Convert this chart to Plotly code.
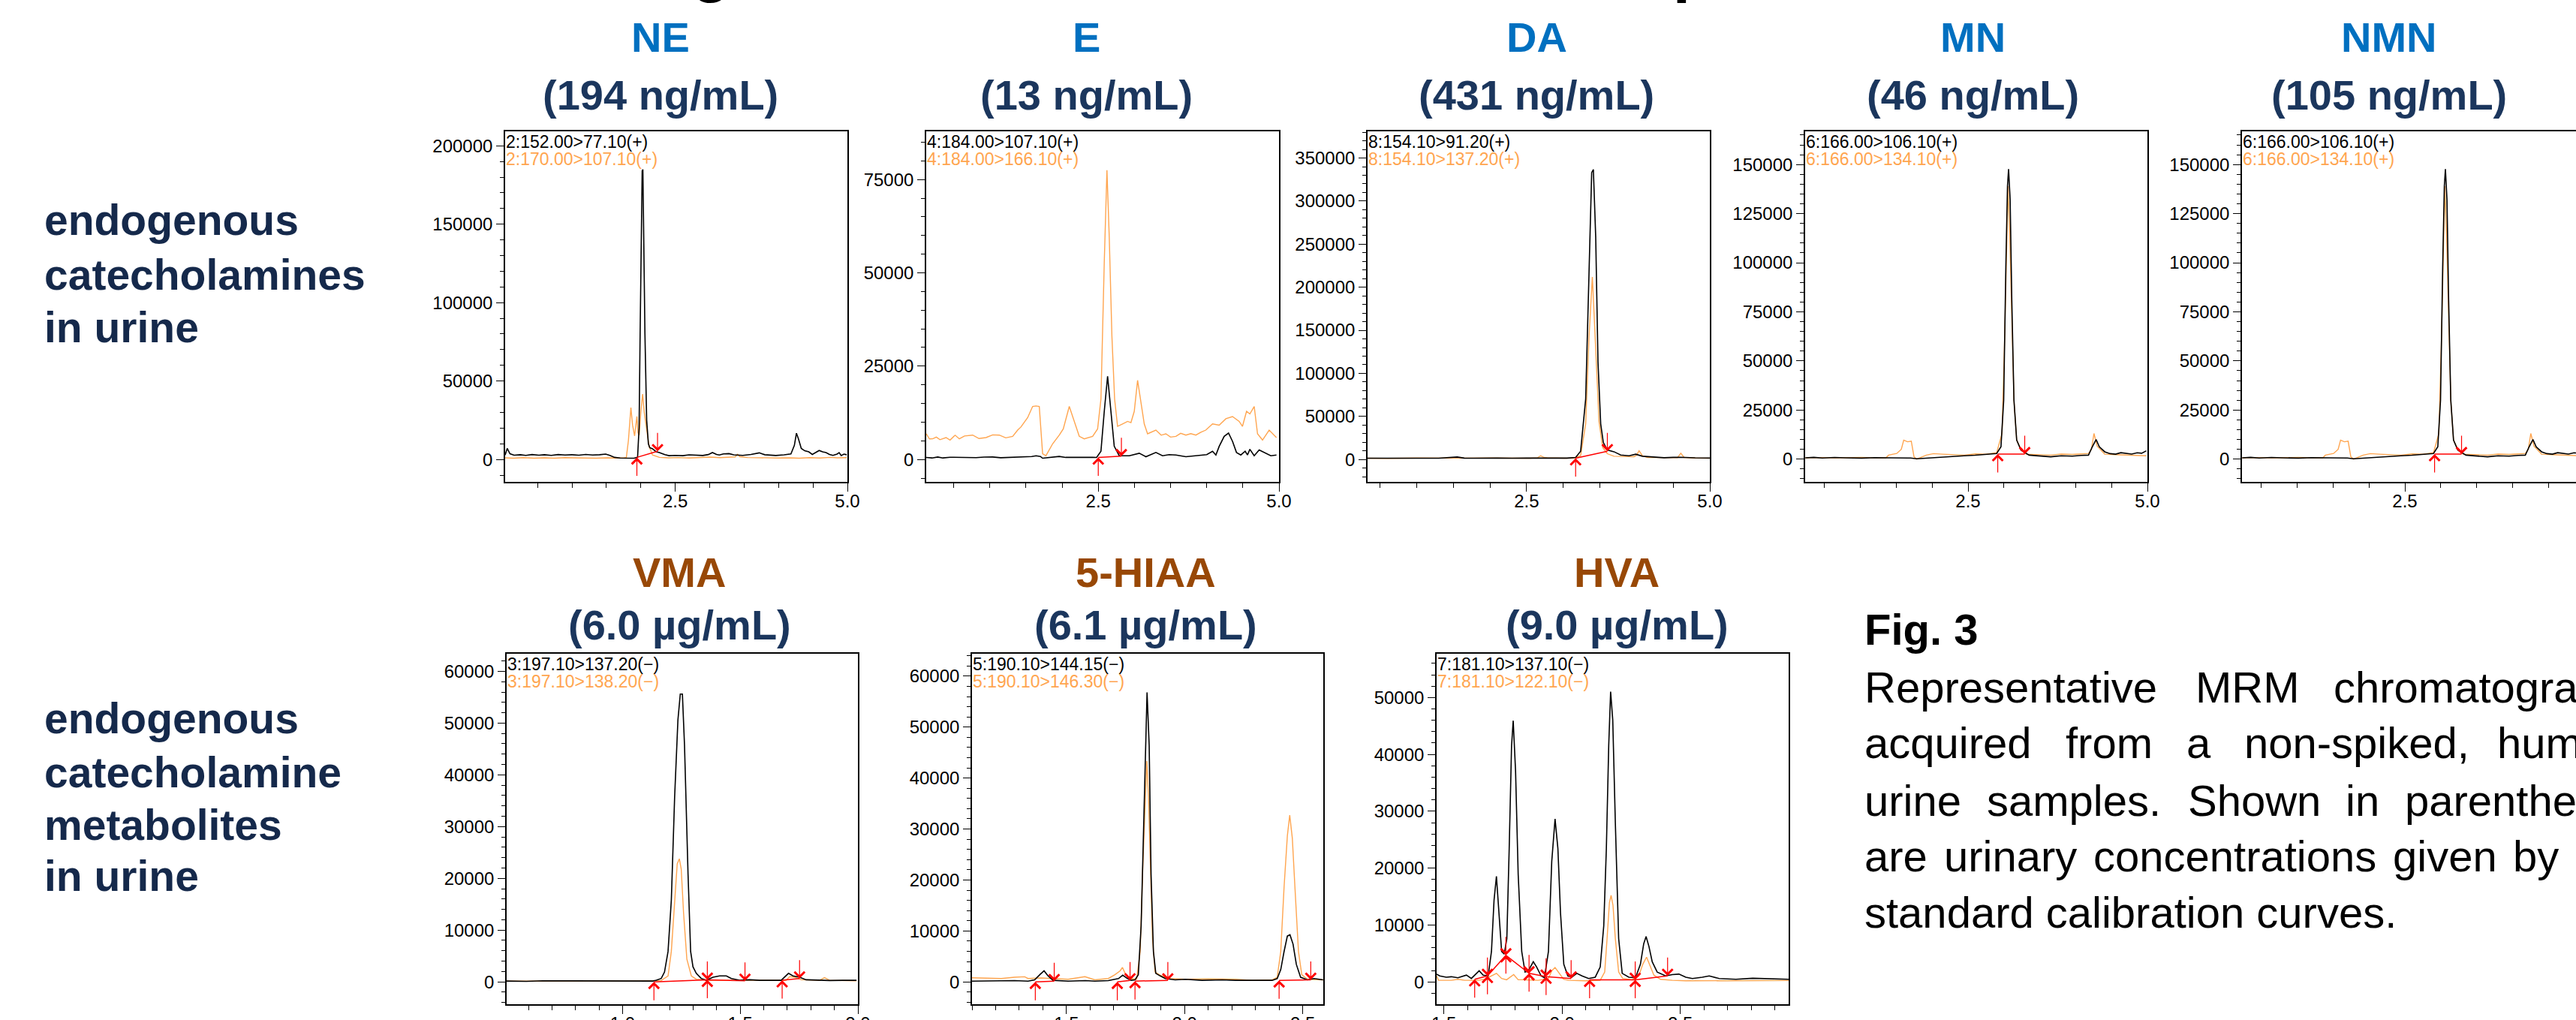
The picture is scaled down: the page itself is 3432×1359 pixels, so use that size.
import plotly.graph_objects as go

W, H = 3432, 1359

# ---------------- data (retention time [min], intensity) ----------------
ne_black = [(0.03,2800),(0.06,7000),(0.10,3600),(0.16,2700),(0.25,3000),(0.33,2600),(0.42,3100),(0.52,2700),
            (0.60,3000),(0.70,2600),(0.80,3100),(0.90,2800),(1.00,3000),(1.10,2700),(1.20,3200),(1.30,2800),
            (1.40,3000),(1.49,3400),(1.55,2600),(1.62,1300),(1.70,900),(1.80,1000),(1.90,800),(1.953,1300),
            (1.975,20000),(1.99,80000),(2.005,150000),(2.02,184000),(2.03,184900),(2.04,150000),(2.06,80000),
            (2.085,25000),(2.11,10000),(2.13,7500),(2.17,6800),(2.22,5000),(2.27,4400),(2.35,3000),(2.41,2400),
            (2.50,2600),(2.61,2400),(2.70,2900),(2.80,2700),(2.90,2500),(2.98,3100),(3.04,4400),(3.10,3200),
            (3.14,2800),(3.20,3500),(3.28,3700),(3.35,2900),(3.48,2600),(3.60,3200),(3.72,4200),(3.80,3000),
            (3.96,2500),(4.08,2900),(4.18,3500),(4.23,9000),(4.26,16700),(4.29,13000),(4.33,7000),(4.38,5500),
            (4.44,4800),(4.49,3200),(4.55,4500),(4.59,5700),(4.64,4800),(4.69,4400),(4.74,3200),(4.79,2600),
            (4.85,3400),(4.88,4300),(4.91,2500),(4.95,3400),(4.99,3000)]
ne_orange = [(0.03,1000),(0.15,800),(0.30,1100),(0.45,800),(0.60,1000),(0.75,800),(0.90,1100),(1.05,900),
             (1.20,1000),(1.35,800),(1.50,1000),(1.65,800),(1.75,900),(1.79,1300),(1.82,12000),(1.856,33000),
             (1.88,22000),(1.91,15000),(1.943,27400),(1.96,17000),(1.977,15500),(2.0,30000),(2.026,41700),
             (2.05,30000),(2.074,22700),(2.10,14000),(2.12,8400),(2.17,2800),(2.27,1300),(2.40,1000),(2.55,1200),
             (2.70,900),(2.85,1300),(3.00,1500),(3.15,1100),(3.30,1400),(3.37,1600),(3.405,3300),(3.44,1700),
             (3.55,1200),(3.70,1000),(3.85,800),(4.00,900),(4.15,1000),(4.30,800),(4.45,1100),(4.60,900),
             (4.75,1300),(4.85,1000),(4.99,1100)]
ne_integ = [[(1.943,1300,'s'),(2.243,5200,'e')]]

e_black = [(0.12,530),(0.20,400),(0.28,650),(0.35,400),(0.45,600),(0.58,600),(0.70,450),(0.81,470),(0.92,650),
           (1.04,670),(1.15,450),(1.27,530),(1.40,550),(1.50,670),(1.58,800),(1.64,1000),(1.70,800),(1.73,330),
           (1.80,450),(1.90,700),(1.96,800),(2.05,550),(2.19,600),(2.30,520),(2.42,600),(2.477,530),(2.537,2200),
           (2.583,12900),(2.629,22300),(2.675,12900),(2.721,3530),(2.79,1000),(2.93,1000),(3.067,1670),(3.159,730),
           (3.297,1870),(3.389,1000),(3.48,1300),(3.574,1200),(3.712,730),(3.896,1000),(4.00,1300),(4.081,2200),
           (4.127,1200),(4.173,3530),(4.242,6200),(4.302,7070),(4.357,4870),(4.412,1870),(4.472,1200),(4.532,2200),
           (4.564,1200),(4.597,2730),(4.657,1000),(4.726,2530),(4.818,1670),(4.887,1000),(4.965,1200)]
e_orange = [(0.12,6870),(0.165,5500),(0.21,5530),(0.26,6000),(0.31,5300),(0.394,5870),(0.45,5200),(0.52,6500),
            (0.578,5530),(0.65,6300),(0.763,6530),(0.85,5600),(0.947,5870),(1.04,6600),(1.131,6530),(1.22,5800),
            (1.316,6200),(1.385,7870),(1.43,8700),(1.477,9870),(1.523,11200),(1.592,14200),(1.638,14330),
            (1.684,14200),(1.730,1530),(1.776,1000),(1.869,4200),(1.961,6530),(2.016,8200),(2.099,14200),
            (2.168,10200),(2.237,6200),(2.306,5530),(2.422,6200),(2.491,8200),(2.537,16200),(2.583,52900),
            (2.620,77500),(2.652,59500),(2.689,32900),(2.726,16200),(2.767,8870),(2.836,9530),(2.906,10200),
            (2.952,9870),(2.998,12900),(3.044,21200),(3.090,15500),(3.136,9530),(3.182,6870),(3.24,7400),
            (3.297,7870),(3.37,6500),(3.435,6870),(3.50,6000),(3.574,6200),(3.64,7000),(3.712,6530),(3.78,6900),
            (3.850,6530),(3.92,7300),(3.988,7870),(4.081,9530),(4.173,9200),(4.265,10900),(4.357,11500),
            (4.449,10200),(4.495,8870),(4.551,12900),(4.597,12200),(4.657,14200),(4.703,6870),(4.772,5200),
            (4.864,7870),(4.965,5870)]
e_integ = [[(2.50,530,'s'),(2.82,870,'e')]]

da_black = [(0.33,1450),(0.55,1600),(0.75,1450),(0.95,1750),(1.10,1730),(1.30,1500),(1.553,2900),(1.65,1600),
            (1.78,1450),(1.95,1700),(2.10,1730),(2.30,1500),(2.555,1450),(2.75,1700),(2.92,1730),(3.05,1600),
            (3.169,2300),(3.237,9540),(3.306,70200),(3.352,229200),(3.388,333200),(3.411,336700),(3.443,258000),
            (3.474,113600),(3.511,41300),(3.547,19650),(3.602,10980),(3.693,8960),(3.784,5200),(3.898,4300),
            (3.989,6070),(4.08,3760),(4.24,2900),(4.376,2020),(4.50,2400),(4.604,2600),(4.80,1900),(5.0,1730)]
da_orange = [(0.33,1450),(0.60,1300),(1.00,1730),(1.30,1450),(1.60,1600),(2.00,1730),(2.30,1300),(2.55,1450),
             (2.65,2000),(2.691,4340),(2.74,2300),(2.782,2020),(3.01,1450),(3.15,1700),(3.237,4340),(3.306,41300),
             (3.352,142500),(3.397,211800),(3.443,128000),(3.488,44200),(3.538,13870),(3.602,6650),(3.693,3760),
             (3.80,3600),(3.966,3180),(4.0,5000),(4.035,10100),(4.08,4340),(4.148,2300),(4.30,2200),(4.558,2020),
             (4.604,7225),(4.649,2300),(4.80,1700),(5.0,1450)]
da_integ = [[(3.169,1450,'s'),(3.602,9540,'e')]]

mn_black = [(0.233,680),(0.35,900),(0.47,600),(0.64,850),(0.80,650),(1.017,510),(1.20,750),(1.355,680),
            (1.55,600),(1.70,550),(1.785,170),(1.92,500),(2.05,900),(2.146,1190),(2.30,1400),(2.447,1700),
            (2.60,2000),(2.749,2380),(2.899,2890),(2.959,6290),(2.997,30000),(3.027,98000),(3.05,139000),
            (3.065,147700),(3.087,132000),(3.11,81000),(3.14,30000),(3.178,9690),(3.238,4590),(3.351,2040),
            (3.50,1500),(3.652,1190),(3.80,1700),(3.953,1530),(4.08,1900),(4.179,2040),(4.232,6290),(4.285,10000),
            (4.33,6290),(4.405,3740),(4.48,2800),(4.556,2550),(4.63,3300),(4.706,2890),(4.78,2600),(4.857,3230),
            (4.92,3000),(4.985,4250)]
mn_orange = [(0.233,680),(0.40,800),(0.64,680),(0.85,900),(1.017,850),(1.20,700),(1.355,680),(1.393,2040),
             (1.506,2890),(1.57,5000),(1.604,9690),(1.657,8840),(1.709,9180),(1.747,1190),(1.785,0),(1.92,2040),
             (2.02,2800),(2.146,2550),(2.30,2300),(2.447,2040),(2.60,2700),(2.749,2550),(2.899,3230),(2.974,13090),
             (3.012,64090),(3.042,123600),(3.057,139000),(3.08,115100),(3.11,72600),(3.14,30000),(3.178,9690),
             (3.238,4930),(3.313,2550),(3.50,2300),(3.652,2040),(3.80,2600),(3.953,2380),(4.08,2700),(4.179,2890),
             (4.22,5000),(4.255,13090),(4.30,6630),(4.405,2550),(4.55,2300),(4.706,2040),(4.85,1800),(4.985,1700)]
mn_integ = [[(2.914,2550,'s'),(3.29,2550,'e')]]

nmn_black = mn_black
nmn_orange = mn_orange
nmn_integ = mn_integ

vma_black = [(0.507,150),(0.591,100),(0.66,200),(0.732,200),(0.80,120),(0.874,100),(0.95,180),(1.016,150),
             (1.08,120),(1.129,150),(1.143,300),(1.164,650),(1.178,1890),(1.193,5870),(1.207,15800),(1.221,35700),
             (1.235,50600),(1.245,55600),(1.254,55600),(1.263,45700),(1.278,20800),(1.289,5870),(1.299,2890),
             (1.313,1640),(1.334,650),(1.356,300),(1.384,900),(1.412,1145),(1.441,1145),(1.462,650),(1.497,300),
             (1.54,400),(1.582,300),(1.63,350),(1.674,300),(1.688,900),(1.705,1640),(1.724,1145),(1.752,900),
             (1.78,400),(1.823,300),(1.88,250),(1.936,300),(1.994,300)]
vma_orange = [(0.507,150),(0.62,200),(0.732,150),(0.87,180),(1.016,150),(1.164,250),(1.193,1145),(1.207,5870),
              (1.221,15800),(1.232,22800),(1.241,23780),(1.249,21800),(1.259,13300),(1.273,4380),(1.292,1145),
              (1.313,500),(1.37,300),(1.48,300),(1.582,300),(1.695,300),(1.71,1000),(1.731,900),(1.759,400),
              (1.837,300),(1.858,800),(1.88,300),(1.994,200)]
vma_integ = [[(1.133,0,'s'),(1.36,400,'b'),(1.52,200,'e')], [(1.678,300,'s'),(1.752,650,'e')]]

hiaa_black = [(1.099,150),(1.16,200),(1.224,150),(1.28,250),(1.337,150),(1.365,400),(1.387,1410),(1.405,2170),
              (1.422,1160),(1.443,300),(1.507,150),(1.58,250),(1.62,150),(1.677,250),(1.72,650),(1.738,1310),
              (1.755,760),(1.773,300),(1.79,400),(1.804,1410),(1.816,11000),(1.826,31200),(1.836,51400),
              (1.841,56800),(1.85,46400),(1.858,21100),(1.868,5960),(1.878,1670),(1.897,1160),(1.918,650),
              (1.96,400),(2.003,500),(2.074,300),(2.159,400),(2.215,300),(2.3,300),(2.371,300),(2.392,650),
              (2.407,2420),(2.421,5960),(2.435,8990),(2.446,9240),(2.459,7420),(2.473,3430),(2.491,910),
              (2.52,400),(2.548,650),(2.586,400)]
hiaa_orange = [(1.099,810),(1.153,760),(1.224,660),(1.28,910),(1.323,1010),(1.337,660),(1.394,760),(1.436,660),
               (1.507,500),(1.578,1010),(1.62,400),(1.677,660),(1.705,1410),(1.727,2170),(1.737,2830),(1.748,1670),
               (1.769,660),(1.797,500),(1.812,5960),(1.822,21100),(1.833,36260),(1.84,43330),(1.847,36260),
               (1.856,21100),(1.864,8480),(1.875,1920),(1.897,1310),(1.932,660),(2.003,500),(2.10,600),(2.215,500),
               (2.286,300),(2.371,400),(2.392,910),(2.407,5960),(2.421,18580),(2.435,28700),(2.445,32720),
               (2.456,28180),(2.467,18580),(2.482,5960),(2.496,1420),(2.52,500),(2.586,400)]
hiaa_integ = [[(1.368,0,'s'),(1.448,150,'e')], [(1.715,0,'s'),(1.769,300,'e')],
              [(1.79,150,'s'),(1.929,300,'e')], [(2.40,300,'s'),(2.534,400,'e')]]

hva_black = [(1.469,1360),(1.482,1040),(1.51,815),(1.531,900),(1.559,720),(1.595,1180),(1.616,590),(1.649,1950),
             (1.666,1180),(1.687,1040),(1.701,5340),(1.712,14400),(1.722,18550),(1.732,12130),(1.744,5340),
             (1.755,4890),(1.766,7600),(1.776,23440),(1.786,41540),(1.793,45930),(1.803,37000),(1.814,18900),
             (1.829,5340),(1.843,1720),(1.857,1950),(1.878,3530),(1.892,2620),(1.911,1040),(1.925,720),
             (1.942,5340),(1.956,21180),(1.97,28640),(1.982,23440),(1.993,12130),(2.007,3080),(2.024,1040),
             (2.041,815),(2.062,1490),(2.084,1040),(2.112,590),(2.14,815),(2.161,2620),(2.176,9870),(2.187,23440),
             (2.197,41540),(2.205,51040),(2.214,46070),(2.225,27960),(2.239,7600),(2.254,1490),(2.282,815),
             (2.31,720),(2.331,3080),(2.345,6700),(2.355,7960),(2.367,6240),(2.381,3530),(2.402,1720),(2.438,1040),
             (2.466,1270),(2.494,1360),(2.523,815),(2.551,590),(2.593,815),(2.622,1040),(2.664,590),(2.735,450),
             (2.806,630),(2.877,590),(2.958,450)]
hva_orange = [(1.469,1040),(1.477,270),(1.531,270),(1.559,450),(1.588,270),(1.644,270),(1.673,450),(1.701,1040),
              (1.722,1490),(1.744,590),(1.765,360),(1.795,1270),(1.814,360),(1.843,360),(1.899,270),(1.942,590),
              (1.956,1950),(1.97,2530),(1.984,1720),(2.006,450),(2.027,270),(2.098,180),(2.161,270),(2.18,1720),
              (2.19,7600),(2.2,13940),(2.207,15200),(2.215,13480),(2.225,7600),(2.239,1720),(2.256,590),(2.296,360),
              (2.324,1040),(2.341,3080),(2.357,4340),(2.37,3080),(2.388,1180),(2.416,450),(2.466,270),(2.523,180),
              (2.958,230)]
hva_integ = [[(1.63,450,'s'),(1.684,1040,'b'),(1.762,4660,'b'),(1.86,1490,'b'),(1.932,900,'b'),(2.038,590,'e')],
             [(2.116,360,'s'),(2.309,360,'b'),(2.446,1040,'e')]]

# ---------------- text content ----------------
names = ['NE', 'E', 'DA', 'MN', 'NMN', 'VMA', '5-HIAA', 'HVA']
concs = ['(194 ng/mL)', '(13 ng/mL)', '(431 ng/mL)', '(46 ng/mL)', '(105 ng/mL)',
         '(6.0 µg/mL)', '(6.1 µg/mL)', '(9.0 µg/mL)']
trans_black = ['2:152.00>77.10(+)', '4:184.00>107.10(+)', '8:154.10>91.20(+)', '6:166.00>106.10(+)',
               '6:166.00>106.10(+)', '3:197.10>137.20(−)', '5:190.10>144.15(−)', '7:181.10>137.10(−)']
trans_orange = ['2:170.00>107.10(+)', '4:184.00>166.10(+)', '8:154.10>137.20(+)', '6:166.00>134.10(+)',
                '6:166.00>134.10(+)', '3:197.10>138.20(−)', '5:190.10>146.30(−)', '7:181.10>122.10(−)']
series_black = [ne_black, e_black, da_black, mn_black, nmn_black, vma_black, hiaa_black, hva_black]
series_orange = [ne_orange, e_orange, da_orange, mn_orange, nmn_orange, vma_orange, hiaa_orange, hva_orange]
series_integ = [ne_integ, e_integ, da_integ, mn_integ, nmn_integ, vma_integ, hiaa_integ, hva_integ]

row_labels = [['endogenous', 'catecholamines', 'in urine'],
              ['endogenous', 'catecholamine', 'metabolites', 'in urine']]
page_title = '3. Detection of endogenous metabolites in urine samples'
caption_title = 'Fig. 3'
caption_lines = [['Representative', 'MRM', 'chromatograms'],
                 ['acquired', 'from', 'a', 'non-spiked,', 'human'],
                 ['urine', 'samples.', 'Shown', 'in', 'parentheses'],
                 ['are', 'urinary', 'concentrations', 'given', 'by'],
                 ['standard calibration curves.']]

# ---------------- layout geometry (pixels) ----------------
FONT = 'Arial, Liberation Sans, sans-serif'
BLUE, BROWN, NAVY, LABEL = '#0070C0', '#984806', '#1B365D', '#15294B'
ORANGE, RED = '#FFA54F', '#FF0000'

geom = [
    dict(px=(673, 1129), row=0, xr=(0.03, 5.0), yr=(-14300, 209200), yd=50000, ym=10000, xd=2.5, xm=0.5, tx=880),
    dict(px=(1234, 1704), row=0, xr=(0.12, 5.0), yr=(-6000, 87900), yd=25000, ym=5000, xd=2.5, xm=0.5, tx=1447),
    dict(px=(1822, 2278), row=0, xr=(0.33, 5.0), yr=(-26000, 381000), yd=50000, ym=10000, xd=2.5, xm=0.5, tx=2047),
    dict(px=(2405, 2861), row=0, xr=(0.23, 5.0), yr=(-11560, 166900), yd=25000, ym=5000, xd=2.5, xm=0.5, tx=2628),
    dict(px=(2987, 3432), row=0, xr=(0.23, 4.885), yr=(-11560, 166900), yd=25000, ym=5000, xd=2.5, xm=0.5, tx=3183),
    dict(px=(675, 1143), row=1, xr=(0.507, 2.0), yr=(-4330, 63400), yd=10000, ym=2000, xd=0.5, xm=0.1, tx=905),
    dict(px=(1295, 1763), row=1, xr=(1.1, 2.587), yr=(-4390, 64400), yd=10000, ym=2000, xd=0.5, xm=0.1, tx=1526),
    dict(px=(1914, 2383), row=1, xr=(1.469, 2.958), yr=(-3940, 57700), yd=10000, ym=2000, xd=0.5, xm=0.1, tx=2154),
]
row_frame = [(175, 642), (871, 1338)]
row_name_y = [49, 762]
row_conc_y = [127, 832]
row_label_y = [[293, 366, 436], [957, 1029, 1099, 1167]]
caption_x = [[2482, 2923, 3107],
             [2482, 2750, 2911, 2988, 3325],
             [2482, 2645, 2913, 3123, 3202],
             [2482, 2588, 2787, 3186, 3346],
             [2482]]
caption_y = [915, 989, 1066, 1140, 1215]


def px(x):
    return x / W


def py(y):
    return 1 - y / H


fig = go.Figure()
annotations = []
layout = {}

for i in range(8):
    n = i + 1
    sfx = '' if n == 1 else str(n)
    xa, ya = 'x' + sfx, 'y' + sfx
    g = geom[i]
    top, bot = row_frame[g['row']]

    ot, ov = zip(*series_orange[i])
    bt, bv = zip(*series_black[i])
    fig.add_trace(go.Scatter(x=ot, y=ov, mode='lines', line=dict(color=ORANGE, width=1.4),
                             xaxis=xa, yaxis=ya, hoverinfo='skip', showlegend=False))
    fig.add_trace(go.Scatter(x=bt, y=bv, mode='lines', line=dict(color='black', width=1.6),
                             xaxis=xa, yaxis=ya, hoverinfo='skip', showlegend=False))
    rt, rv = [], []
    for chain in series_integ[i]:
        for (t, v, k) in chain:
            rt.append(t)
            rv.append(v)
            for dy, kinds in ((26, 'sb'), (-26, 'eb')):
                if k in kinds:
                    annotations.append(dict(xref=xa, yref=ya, x=t, y=v, text='', showarrow=True,
                                            ax=0, ay=dy, arrowhead=4, arrowsize=2.2, arrowwidth=1.2,
                                            arrowcolor=RED, standoff=0))
        rt.append(None)
        rv.append(None)
    fig.add_trace(go.Scatter(x=rt, y=rv, mode='lines', line=dict(color=RED, width=1.5),
                             xaxis=xa, yaxis=ya, hoverinfo='skip', showlegend=False, connectgaps=False))

    layout['xaxis' + sfx] = dict(
        domain=[px(g['px'][0]), px(g['px'][1])], range=list(g['xr']), anchor=ya, automargin=False,
        showline=True, linecolor='black', linewidth=1.6, mirror=True,
        ticks='outside', ticklen=11, tickwidth=1.2, tickcolor='black', ticklabelstandoff=-8,
        tick0=0, dtick=g['xd'], tickformat='.1f',
        minor=dict(ticks='outside', dtick=g['xm'], tick0=0, ticklen=6, tickwidth=1.2, tickcolor='black'),
        showgrid=False, zeroline=False, fixedrange=True,
        tickfont=dict(family=FONT, size=24, color='black'))
    layout['yaxis' + sfx] = dict(
        domain=[py(bot), py(top)], range=list(g['yr']), anchor=xa, automargin=False,
        showline=True, linecolor='black', linewidth=1.6, mirror=(n != 5),
        ticks='outside', ticklen=10, tickwidth=1.2, tickcolor='black',
        tick0=0, dtick=g['yd'], tickformat='d',
        minor=dict(ticks='outside', dtick=g['ym'], tick0=0, ticklen=5, tickwidth=1.2, tickcolor='black'),
        showgrid=False, zeroline=False, fixedrange=True,
        tickfont=dict(family=FONT, size=24, color='black'))

    annotations.append(dict(xref=xa + ' domain', yref=ya + ' domain', x=0, y=1, xanchor='left', yanchor='middle',
                            yshift=-14, text=trans_black[i], showarrow=False, borderpad=0,
                            font=dict(family=FONT, size=23, color='black')))
    annotations.append(dict(xref=xa + ' domain', yref=ya + ' domain', x=0, y=1, xanchor='left', yanchor='middle',
                            yshift=-37, text=trans_orange[i], showarrow=False, borderpad=0,
                            font=dict(family=FONT, size=23, color=ORANGE)))
    annotations.append(dict(xref='paper', yref='paper', x=px(g['tx']), y=py(row_name_y[g['row']]),
                            xanchor='center', yanchor='middle', text='<b>%s</b>' % names[i], showarrow=False,
                            font=dict(family=FONT, size=56, color=BLUE if g['row'] == 0 else BROWN)))
    annotations.append(dict(xref='paper', yref='paper', x=px(g['tx']), y=py(row_conc_y[g['row']]),
                            xanchor='center', yanchor='middle', text='<b>%s</b>' % concs[i], showarrow=False,
                            font=dict(family=FONT, size=56, color=NAVY)))

for r, lines in enumerate(row_labels):
    for j, line in enumerate(lines):
        annotations.append(dict(xref='paper', yref='paper', x=px(57), y=py(row_label_y[r][j]),
                                xanchor='left', yanchor='middle', text='<b>%s</b>' % line, showarrow=False,
                                font=dict(family=FONT, size=57, color=LABEL)))

annotations.append(dict(xref='paper', yref='paper', x=px(117), y=py(7), xanchor='left', yanchor='bottom',
                        text='<b>%s</b>' % page_title, showarrow=False,
                        font=dict(family=FONT, size=84, color='black')))

annotations.append(dict(xref='paper', yref='paper', x=px(2482), y=py(838), xanchor='left', yanchor='middle',
                        text='<b>%s</b>' % caption_title, showarrow=False,
                        font=dict(family=FONT, size=58, color='black')))
for li, words in enumerate(caption_lines):
    for wi, w in enumerate(words):
        annotations.append(dict(xref='paper', yref='paper', x=px(caption_x[li][wi]), y=py(caption_y[li]),
                                xanchor='left', yanchor='middle', text=w, showarrow=False,
                                font=dict(family=FONT, size=58, color='black')))

fig.update_layout(width=W, height=H, margin=dict(l=0, r=0, t=0, b=0, pad=0, autoexpand=False),
                  paper_bgcolor='white', plot_bgcolor='white', showlegend=False,
                  annotations=annotations, **layout)

fig.write_html("out.html", config={'displayModeBar': False},
               post_script=("document.documentElement.style.margin='0';"
                            "document.body.style.margin='0';document.body.style.padding='0';"
                            "document.body.style.overflow='hidden';"
                            "var gd=document.getElementById('{plot_id}');"
                            "gd.style.position='fixed';gd.style.top='0px';gd.style.left='0px';"))
